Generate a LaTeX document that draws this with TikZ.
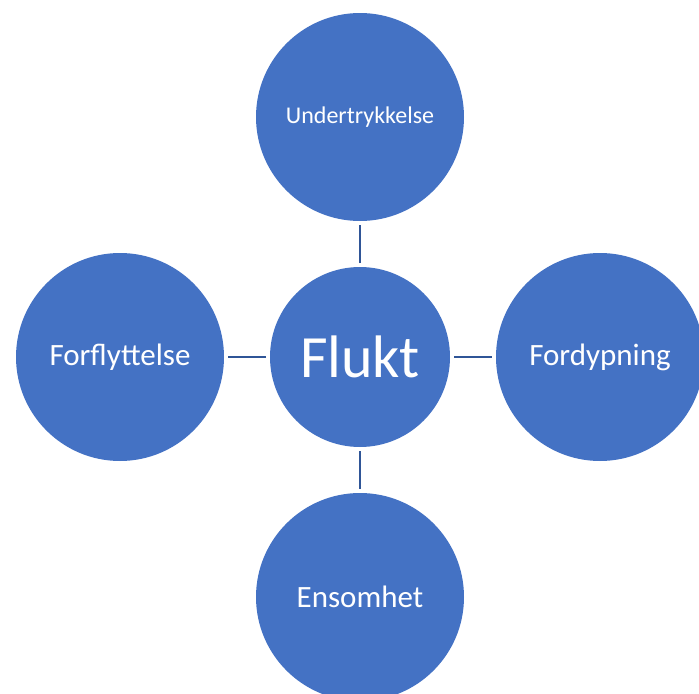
\documentclass[tikz,border=0pt]{standalone}
\usepackage{fontspec}
\setmainfont{Carlito}
\usetikzlibrary{positioning}
\definecolor{circblue}{HTML}{4472C4}
\definecolor{linkblue}{HTML}{2F5597}

\begin{document}
\begin{tikzpicture}[
  node distance=46bp,
  hub/.style={circle, fill=circblue, text=white, inner sep=0pt, outer sep=0pt,
              minimum size=180bp, font=\fontsize{60bp}{66bp}\selectfont},
  leaf/.style={circle, fill=circblue, text=white, inner sep=0pt, outer sep=0pt,
               minimum size=208bp, font=\fontsize{31bp}{36bp}\selectfont},
  link/.style={draw=linkblue, line width=1.6bp, shorten <=4bp, shorten >=4bp}
]
\useasboundingbox (0,0) rectangle (699bp,-694bp);
\node[hub] (flukt) at (360bp,-357bp) {Flukt};
\node[leaf, above=of flukt, font=\fontsize{24bp}{28bp}\selectfont] (under) {Undertrykkelse};
\node[leaf, left=of flukt]  (forfl) {Forflyttelse};
\node[leaf, right=of flukt] (fordyp) {Fordypning};
\node[leaf, below=of flukt] (ensom) {Ensomhet};
\draw[link] (flukt) -- (under);
\draw[link] (flukt) -- (forfl);
\draw[link] (flukt) -- (fordyp);
\draw[link] (flukt) -- (ensom);
\end{tikzpicture}
\end{document}
